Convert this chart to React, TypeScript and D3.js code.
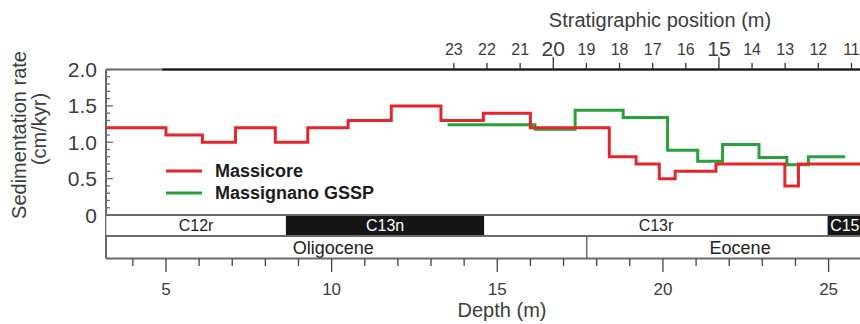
import React from "react";
import * as d3 from "d3";

// ---- data ----
const massicoreDepth = [3.0, 5.0, 6.1, 7.1, 8.3, 9.28, 10.5, 11.8, 13.3, 14.58, 16.0, 18.38, 19.19, 19.89, 20.37, 21.6, 23.68, 24.09, 26.5];
const massicoreRate = [1.2, 1.1, 1.0, 1.2, 1.0, 1.2, 1.3, 1.5, 1.3, 1.4, 1.2, 0.8, 0.7, 0.5, 0.6, 0.7, 0.4, 0.7, 0.7];
const gsspDepth = [13.5, 16.14, 17.35, 18.8, 20.14, 21.05, 21.8, 22.9, 23.74, 24.39, 25.5];
const gsspRate = [1.24, 1.18, 1.44, 1.34, 0.89, 0.74, 0.97, 0.79, 0.69, 0.8, 0.8];

const chronNames = ["C12r", "C13n", "C13r", "C15r"];
const chronBounds = [3.2, 8.62, 14.61, 24.97, 26.17];
const chronNormal = [false, true, false, true];

const epochNames = ["Oligocene", "Eocene"];
const epochBounds = [2.4, 17.7, 26.96];

const yTicks = [0, 0.5, 1.0, 1.5, 2.0];
const yTickLabels = ["0", "0.5", "1.0", "1.5", "2.0"];
const depthMajor = [5, 10, 15, 20, 25];
const stratTicks = [23, 22, 21, 20, 19, 18, 17, 16, 15, 14, 13, 12, 11];
const stratMajor = [20, 15];

const RED = "#e3262b";
const GREEN = "#27a13a";
const FONT = "'Liberation Sans', Arial, Helvetica, sans-serif";
const TXT = "#3c3c3c";
const FRAME = "#6a6a6a";

export default function App() {
  const left = 106, right = 870, top = 69.5, bottom = 215;
  const depthMin = 3.19, depthMax = 26.25;
  const x = d3.scaleLinear().domain([depthMin, depthMax]).range([left, right]);
  const stratOffset = 36.69;
  const xs = d3.scaleLinear().domain([stratOffset - depthMin, stratOffset - depthMax]).range([left, right]);
  const y = d3.scaleLinear().domain([0, 2]).range([bottom, top]);

  const line = d3
    .line<[number, number]>()
    .x((d) => x(d[0]))
    .y((d) => y(d[1]))
    .curve(d3.curveStepAfter);

  const redPts = massicoreDepth.map((d, i) => [d, massicoreRate[i]] as [number, number]);
  const greenPts = gsspDepth.map((d, i) => [d, gsspRate[i]] as [number, number]);

  const chronTop = 215, chronBot = 236, epochBot = 258.5;

  const yMinor = d3.range(0, 2.001, 0.1);
  const depthTicks = d3.range(4, 26.01, 1);

  return (
    <div style={{ position: "absolute", left: 0, top: 0 }}>
      <svg width={860} height={324} style={{ display: "block", fontFamily: FONT }}>
        <defs>
          <clipPath id="plotClip">
            <rect x={left} y={top - 5} width={right - left} height={bottom - top + 10} />
          </clipPath>
          <clipPath id="bandClip">
            <rect x={left} y={chronTop} width={right - left} height={epochBot - chronTop} />
          </clipPath>
        </defs>

        {/* Y axis title */}
        <text transform="translate(26,135) rotate(-90)" textAnchor="middle" fontSize={20} fill={TXT}>
          Sedimentation rate
        </text>
        <text transform="translate(46,129) rotate(-90)" textAnchor="middle" fontSize={20} fill={TXT}>
          (cm/kyr)
        </text>

        {/* Y ticks */}
        {yMinor.map((v, i) => {
          const major = Math.abs(v * 2 - Math.round(v * 2)) < 1e-6;
          return (
            <line key={"ym" + i} x1={left} x2={left + (major ? 7 : 4)} y1={y(v)} y2={y(v)} stroke={FRAME} strokeWidth={1.3} />
          );
        })}
        {yTicks.map((v, i) => (
          <text key={"yl" + i} x={97} y={y(v)} dy="0.36em" textAnchor="end" fontSize={21} fill={TXT}>
            {yTickLabels[i]}
          </text>
        ))}

        {/* frame */}
        <line x1={left} x2={left} y1={top} y2={epochBot} stroke={FRAME} strokeWidth={2} />
        <line x1={left} x2={right} y1={top} y2={top} stroke={FRAME} strokeWidth={2} />

        {/* top stratigraphic axis */}
        <line x1={xs(31.8)} x2={860} y1={top} y2={top} stroke="#111" strokeWidth={2} />
        {stratTicks.map((s) => {
          const major = stratMajor.includes(s);
          return (
            <g key={"st" + s}>
              <line x1={xs(s)} x2={xs(s)} y1={top} y2={major ? 57 : 63} stroke="#333" strokeWidth={1.3} />
              <text x={xs(s)} y={major ? 56 : 55} textAnchor="middle" fontSize={major ? 21 : 16} fill={TXT}>
                {s}
              </text>
            </g>
          );
        })}
        <text x={660} y={27} textAnchor="middle" fontSize={20} fill={TXT}>
          Stratigraphic position (m)
        </text>

        {/* data lines */}
        <g clipPath="url(#plotClip)">
          <path d={line(greenPts) || ""} fill="none" stroke={GREEN} strokeWidth={3} />
          <path d={line(redPts) || ""} fill="none" stroke={RED} strokeWidth={3} />
        </g>

        {/* legend */}
        <line x1={166} x2={202} y1={171} y2={171} stroke={RED} strokeWidth={3} />
        <text x={215} y={176.5} fontSize={18} fontWeight="bold" fill="#1c1c1c">
          Massicore
        </text>
        <line x1={166} x2={202} y1={193} y2={193} stroke={GREEN} strokeWidth={3} />
        <text x={215} y={198.5} fontSize={18} fontWeight="bold" fill="#1c1c1c">
          Massignano GSSP
        </text>

        {/* chron band */}
        <g clipPath="url(#bandClip)">
          {chronNames.map((n, i) => {
            const x0 = x(chronBounds[i]);
            const x1 = x(chronBounds[i + 1]);
            return (
              <g key={"c" + n}>
                <rect x={x0} y={chronTop} width={x1 - x0} height={chronBot - chronTop} fill={chronNormal[i] ? "#161616" : "#fff"} />
                <text x={(x0 + x1) / 2} y={(chronTop + chronBot) / 2} dy="0.36em" textAnchor="middle" fontSize={16} fill={chronNormal[i] ? "#fff" : "#222"}>
                  {n}
                </text>
              </g>
            );
          })}
          {epochNames.map((n, i) => {
            const x0 = x(epochBounds[i]);
            const x1 = x(epochBounds[i + 1]);
            return (
              <text key={"e" + n} x={(x0 + x1) / 2} y={(chronBot + epochBot) / 2} dy="0.36em" textAnchor="middle" fontSize={18} fill="#222">
                {n}
              </text>
            );
          })}
          <line x1={x(epochBounds[1])} x2={x(epochBounds[1])} y1={chronBot} y2={epochBot} stroke={FRAME} strokeWidth={1.5} />
        </g>
        <line x1={left} x2={860} y1={chronTop} y2={chronTop} stroke={FRAME} strokeWidth={1.8} />
        <line x1={left} x2={860} y1={chronBot} y2={chronBot} stroke={FRAME} strokeWidth={1.8} />
        <line x1={left} x2={860} y1={epochBot} y2={epochBot} stroke={FRAME} strokeWidth={1.8} />

        {/* bottom depth axis */}
        {depthTicks.map((d) => {
          const major = depthMajor.includes(d);
          return (
            <line key={"dt" + d} x1={x(d)} x2={x(d)} y1={epochBot} y2={major ? 272 : 266} stroke="#444" strokeWidth={1.3} />
          );
        })}
        {depthMajor.map((d) => (
          <text key={"dl" + d} x={x(d)} y={294.5} textAnchor="middle" fontSize={17} fill={TXT}>
            {d}
          </text>
        ))}
        <text x={502} y={317} textAnchor="middle" fontSize={20} fill={TXT}>
          Depth (m)
        </text>
      </svg>
    </div>
  );
}
